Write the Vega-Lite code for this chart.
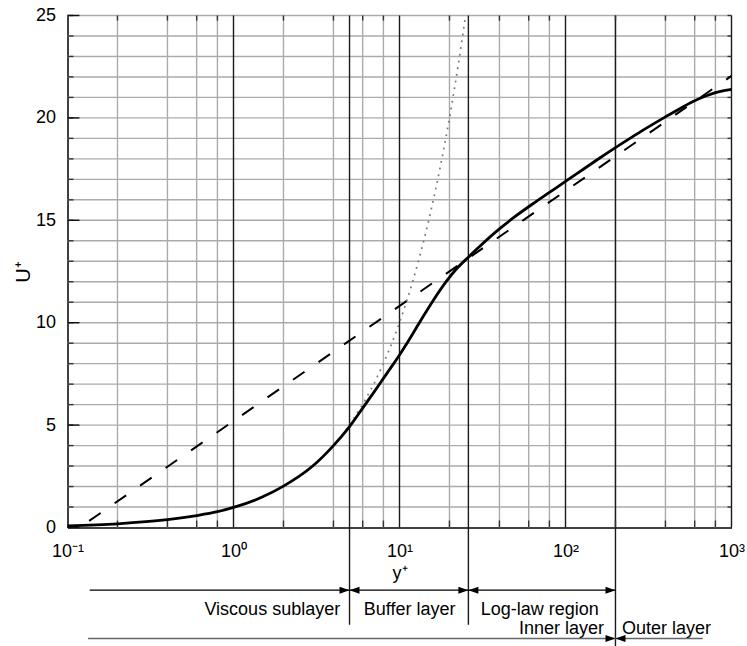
{
  "$schema": "https://vega.github.io/schema/vega-lite/v6.json",
  "width": 664,
  "height": 512,
  "autosize": {"type": "none"},
  "padding": {"left": 67.5, "top": 15.5, "right": 15.5, "bottom": 118.5},
  "background": "white",
  "config": {"view": {"stroke": null}},
  "datasets": {
    "profile": [
      {"yp": 0.1, "up": 0.08}, {"yp": 0.2, "up": 0.18}, {"yp": 0.4, "up": 0.38},
      {"yp": 0.6, "up": 0.58}, {"yp": 0.8, "up": 0.77}, {"yp": 1, "up": 0.98},
      {"yp": 1.5, "up": 1.5}, {"yp": 2, "up": 2.02}, {"yp": 3, "up": 3.0},
      {"yp": 4, "up": 4.0}, {"yp": 5, "up": 4.93}, {"yp": 6, "up": 5.83},
      {"yp": 7, "up": 6.6}, {"yp": 8, "up": 7.28}, {"yp": 9, "up": 7.88},
      {"yp": 10, "up": 8.42}, {"yp": 11, "up": 8.95}, {"yp": 12, "up": 9.45},
      {"yp": 13, "up": 9.92}, {"yp": 14, "up": 10.35}, {"yp": 16, "up": 11.1},
      {"yp": 19, "up": 11.98}, {"yp": 22, "up": 12.62}, {"yp": 26, "up": 13.2},
      {"yp": 30, "up": 13.68}, {"yp": 35, "up": 14.18}, {"yp": 40, "up": 14.58},
      {"yp": 50, "up": 15.2}, {"yp": 64, "up": 15.82}, {"yp": 80, "up": 16.36},
      {"yp": 100, "up": 16.9}, {"yp": 130, "up": 17.53}, {"yp": 160, "up": 18.03},
      {"yp": 200, "up": 18.55}, {"yp": 250, "up": 19.05}, {"yp": 300, "up": 19.45},
      {"yp": 400, "up": 20.05}, {"yp": 500, "up": 20.5}, {"yp": 600, "up": 20.84},
      {"yp": 700, "up": 21.07}, {"yp": 800, "up": 21.23}, {"yp": 900, "up": 21.33},
      {"yp": 1000, "up": 21.39}
    ],
    "loglaw": [
      {"yp": 0.135, "up": 0.32}, {"yp": 1, "up": 5.2}, {"yp": 1000, "up": 22.05}
    ],
    "linear": [
      {"yp": 4.5, "up": 4.5}, {"yp": 5, "up": 5}, {"yp": 6, "up": 6}, {"yp": 7, "up": 7},
      {"yp": 8, "up": 8}, {"yp": 9, "up": 9}, {"yp": 10, "up": 10}, {"yp": 11, "up": 11},
      {"yp": 12, "up": 12}, {"yp": 13, "up": 13}, {"yp": 14, "up": 14}, {"yp": 15, "up": 15},
      {"yp": 16, "up": 16}, {"yp": 17, "up": 17}, {"yp": 18, "up": 18}, {"yp": 19, "up": 19},
      {"yp": 20, "up": 20}, {"yp": 21, "up": 21}, {"yp": 22, "up": 22}, {"yp": 23, "up": 23},
      {"yp": 24, "up": 24}, {"yp": 25, "up": 25}
    ],
    "grayX": [
      {"yp": 0.2}, {"yp": 0.4}, {"yp": 0.6}, {"yp": 0.8},
      {"yp": 2}, {"yp": 4}, {"yp": 6}, {"yp": 8},
      {"yp": 20}, {"yp": 40}, {"yp": 60}, {"yp": 80},
      {"yp": 200}, {"yp": 400}, {"yp": 600}, {"yp": 800}
    ],
    "blackX": [{"yp": 1}, {"yp": 10}, {"yp": 100}, {"yp": 1000}],
    "markers": [
      {"yp": 5, "low": -4.75}, {"yp": 26, "low": -4.75}, {"yp": 200, "low": -6.2}
    ],
    "gridY": [
      {"up": 1}, {"up": 2}, {"up": 3}, {"up": 4}, {"up": 5}, {"up": 6}, {"up": 7}, {"up": 8},
      {"up": 9}, {"up": 10}, {"up": 11}, {"up": 12}, {"up": 13}, {"up": 14}, {"up": 15},
      {"up": 16}, {"up": 17}, {"up": 18}, {"up": 19}, {"up": 20}, {"up": 21}, {"up": 22},
      {"up": 23}, {"up": 24}, {"up": 25}
    ],
    "majorY": [{"up": 0}, {"up": 5}, {"up": 10}, {"up": 15}, {"up": 20}, {"up": 25}],
    "row1": [{"a": 0.136, "b": 200, "lvl": -3.06}],
    "row2": [{"a": 0.133, "b": 671, "lvl": -5.42}],
    "tipsRight": [
      {"yp": 5, "lvl": -3.06}, {"yp": 26, "lvl": -3.06}, {"yp": 200, "lvl": -3.06}, {"yp": 200, "lvl": -5.42}
    ],
    "tipsLeft": [
      {"yp": 5, "lvl": -3.06}, {"yp": 26, "lvl": -3.06}, {"yp": 200, "lvl": -5.42}
    ],
    "labels": [
      {"yp": 1.713, "lvl": -4.28, "label": "Viscous sublayer"},
      {"yp": 11.5, "lvl": -4.28, "label": "Buffer layer"},
      {"yp": 70, "lvl": -4.28, "label": "Log-law region"},
      {"yp": 94.6, "lvl": -5.18, "label": "Inner layer"},
      {"yp": 405.5, "lvl": -5.18, "label": "Outer layer"}
    ]
  },
  "layer": [
    {
      "data": {"name": "profile"},
      "mark": {"type": "line", "stroke": "#000000", "strokeWidth": 2.8, "interpolate": "monotone", "opacity": 0},
      "encoding": {
        "x": {
          "field": "yp", "type": "quantitative",
          "scale": {"type": "log", "domain": [0.1, 1000], "nice": false},
          "axis": {
            "values": [0.1, 1, 10, 100, 1000],
            "labelExpr": "datum.value < 0.5 ? '10⁻¹' : datum.value < 5 ? '10⁰' : datum.value < 50 ? '10¹' : datum.value < 500 ? '10²' : '10³'",
            "ticks": false, "grid": false,
            "domainColor": "#000000", "domainWidth": 1.5,
            "labelFont": "Liberation Sans", "labelFontSize": 18, "labelColor": "#000000", "labelPadding": 15,
            "labelFlush": false, "labelOverlap": false,
            "title": "y⁺", "titleFont": "Liberation Sans", "titleFontSize": 18, "titleFontWeight": "normal",
            "titleColor": "#000000", "titlePadding": 4
          }
        },
        "y": {
          "field": "up", "type": "quantitative",
          "scale": {"domain": [0, 25], "nice": false, "zero": false},
          "axis": {
            "values": [0, 5, 10, 15, 20, 25],
            "ticks": false, "grid": false,
            "domainColor": "#000000", "domainWidth": 1.5,
            "labelFont": "Liberation Sans", "labelFontSize": 18, "labelColor": "#000000", "labelPadding": 12,
            "title": "U⁺", "titleFont": "Liberation Sans", "titleFontSize": 20, "titleFontWeight": "normal",
            "titleColor": "#000000", "titlePadding": 2
          }
        }
      }
    },
    {
      "data": {"name": "grayX"},
      "mark": {"type": "rule", "stroke": "#ababab", "strokeWidth": 1.4},
      "encoding": {
        "x": {"field": "yp", "type": "quantitative"},
        "y": {"datum": 0, "type": "quantitative"},
        "y2": {"datum": 25}
      }
    },
    {
      "data": {"name": "gridY"},
      "mark": {"type": "rule", "stroke": "#ababab", "strokeWidth": 1.4},
      "encoding": {
        "x": {"datum": 0.1, "type": "quantitative"},
        "x2": {"datum": 1000},
        "y": {"field": "up", "type": "quantitative"}
      }
    },
    {
      "data": {"name": "blackX"},
      "mark": {"type": "rule", "stroke": "#1a1a1a", "strokeWidth": 1.4},
      "encoding": {
        "x": {"field": "yp", "type": "quantitative"},
        "y": {"datum": 0, "type": "quantitative"},
        "y2": {"datum": 25}
      }
    },
    {
      "data": {"name": "markers"},
      "mark": {"type": "rule", "stroke": "#1a1a1a", "strokeWidth": 1.4},
      "encoding": {
        "x": {"field": "yp", "type": "quantitative"},
        "y": {"field": "low", "type": "quantitative"},
        "y2": {"datum": 25}
      }
    },
    {
      "data": {"name": "grayX"},
      "mark": {"type": "rule", "stroke": "#333333", "strokeWidth": 1.4},
      "encoding": {
        "x": {"field": "yp", "type": "quantitative"},
        "y": {"datum": 0, "type": "quantitative"},
        "y2": {"datum": 0.34}
      }
    },
    {
      "data": {"name": "grayX"},
      "mark": {"type": "rule", "stroke": "#333333", "strokeWidth": 1.4},
      "encoding": {
        "x": {"field": "yp", "type": "quantitative"},
        "y": {"datum": 25, "type": "quantitative"},
        "y2": {"datum": 24.75}
      }
    },
    {
      "data": {"name": "gridY"},
      "mark": {"type": "rule", "stroke": "#333333", "strokeWidth": 1.4},
      "encoding": {
        "x": {"datum": 0.1, "type": "quantitative"},
        "x2": {"datum": 0.1087},
        "y": {"field": "up", "type": "quantitative"}
      }
    },
    {
      "data": {"name": "majorY"},
      "mark": {"type": "rule", "stroke": "#111111", "strokeWidth": 1.4},
      "encoding": {
        "x": {"datum": 0.1, "type": "quantitative"},
        "x2": {"datum": 0.118},
        "y": {"field": "up", "type": "quantitative"}
      }
    },
    {
      "data": {"name": "gridY"},
      "mark": {"type": "rule", "stroke": "#333333", "strokeWidth": 1.4},
      "encoding": {
        "x": {"datum": 1000, "type": "quantitative"},
        "x2": {"datum": 946},
        "y": {"field": "up", "type": "quantitative"}
      }
    },
    {
      "data": {"name": "linear"},
      "mark": {"type": "line", "stroke": "#777777", "strokeWidth": 1.7, "strokeDash": [1.8, 5], "strokeCap": "butt"},
      "encoding": {
        "x": {"field": "yp", "type": "quantitative"},
        "y": {"field": "up", "type": "quantitative"}
      }
    },
    {
      "data": {"name": "loglaw"},
      "mark": {"type": "line", "stroke": "#000000", "strokeWidth": 2, "strokeDash": [14, 17]},
      "encoding": {
        "x": {"field": "yp", "type": "quantitative"},
        "y": {"field": "up", "type": "quantitative"}
      }
    },
    {
      "data": {"name": "profile"},
      "mark": {"type": "line", "stroke": "#000000", "strokeWidth": 2.8, "interpolate": "monotone"},
      "encoding": {
        "x": {"field": "yp", "type": "quantitative"},
        "y": {"field": "up", "type": "quantitative"}
      }
    },
    {
      "data": {"name": "row1"},
      "mark": {"type": "rule", "stroke": "#000000", "strokeWidth": 1.3},
      "encoding": {
        "x": {"field": "a", "type": "quantitative"},
        "x2": {"field": "b"},
        "y": {"field": "lvl", "type": "quantitative"}
      }
    },
    {
      "data": {"name": "row2"},
      "mark": {"type": "rule", "stroke": "#666666", "strokeWidth": 1.5},
      "encoding": {
        "x": {"field": "a", "type": "quantitative"},
        "x2": {"field": "b"},
        "y": {"field": "lvl", "type": "quantitative"}
      }
    },
    {
      "data": {"name": "tipsRight"},
      "mark": {"type": "point", "shape": "M0,0L-1,-0.35L-1,0.35Z", "filled": true, "color": "#000000", "size": 400, "opacity": 1},
      "encoding": {
        "x": {"field": "yp", "type": "quantitative"},
        "y": {"field": "lvl", "type": "quantitative"}
      }
    },
    {
      "data": {"name": "tipsLeft"},
      "mark": {"type": "point", "shape": "M0,0L1,-0.35L1,0.35Z", "filled": true, "color": "#000000", "size": 400, "opacity": 1},
      "encoding": {
        "x": {"field": "yp", "type": "quantitative"},
        "y": {"field": "lvl", "type": "quantitative"}
      }
    },
    {
      "data": {"name": "labels"},
      "mark": {"type": "text", "fontSize": 18, "font": "Liberation Sans", "color": "#000000", "align": "center", "baseline": "alphabetic"},
      "encoding": {
        "x": {"field": "yp", "type": "quantitative"},
        "y": {"field": "lvl", "type": "quantitative"},
        "text": {"field": "label"}
      }
    }
  ]
}
